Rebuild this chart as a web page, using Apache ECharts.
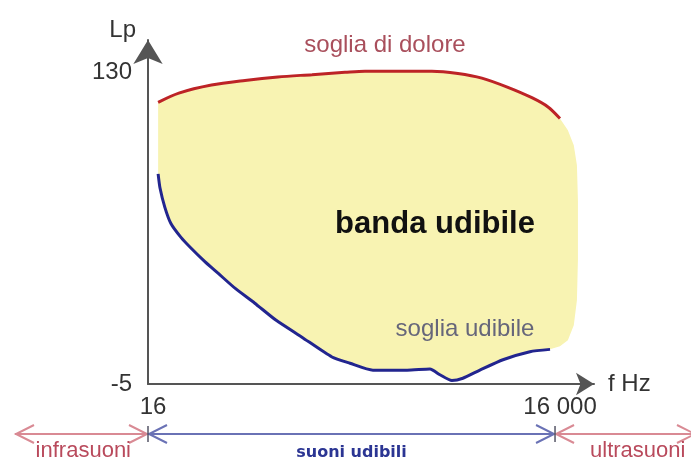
<!DOCTYPE html>
<html>
<head>
<meta charset="utf-8">
<script src="https://cdn.jsdelivr.net/npm/echarts@6/dist/echarts.min.js"></script>
<style>
  html, body { margin: 0; background: #fff; }
  #chart { width: 691px; height: 461px; }
</style>
</head>
<body>
<div id="chart"></div>
<script>
// soglia di dolore (Hz, dB)
const redHz = [19, 27, 47, 83, 145, 259, 453, 636, 848, 1980, 3080, 4620, 7190, 10800, 14200, 17400]
const redLp = [117, 121, 124.5, 126.5, 128, 129, 130, 130.5, 130.5, 130.5, 129.5, 127.5, 123.5, 119, 115, 110]

// soglia udibile (Hz, dB)
const blueHz = [19, 19.6, 21.3, 23.6, 28, 33, 42, 52.5, 70, 98, 140, 218, 363, 493, 728, 1300, 1915, 2270, 2780, 3350, 4470, 6610, 10450, 14700]
const blueLp = [86, 80, 71.5, 64.5, 58.5, 54, 48, 43, 36.5, 30, 22.7, 15.3, 6.7, 4, 1, 1, 1.5, -1, -3.5, -2.5, 1, 5.5, 9, 10]

// bordo destro della banda gialla
const edgeHz = [19900, 22000, 23200, 23600, 23600, 23200, 22000, 19900, 17400]
const edgeLp = [104.9, 98.4, 89.8, 74.6, 48.7, 31.3, 20.5, 14, 11.4]

// assi
const xTicks = [16, 16000]
const yTicks = [-5, 130]
const xRangeHz = [16, 31000]
const yRange = [-5, 144]

// bande sotto l'asse
const bandNames = ['infrasuoni', 'suoni udibili', 'ultrasuoni']
const bandFrom = [null, 16, 16000]
const bandTo = [16, 16000, null]

const lg = Math.log10
const toPts = (hz, lp) => hz.map((f, i) => [lg(f), lp[i]])

const redPts = toPts(redHz, redLp)
const bluePts = toPts(blueHz, blueLp)
const fillPts = [...redPts, ...toPts(edgeHz, edgeLp), ...bluePts.slice().reverse()]

const fmtHz = (v) => String(Math.round(Math.pow(10, v))).replace(/\B(?=(\d{3})+(?!\d))/g, ' ')

const FONT = '"Liberation Sans", Arial, sans-serif'

const chart = echarts.init(document.getElementById('chart'))

const option = {
  animation: false,
  grid: { left: 148, top: 40, width: 446, height: 344, outerBoundsMode: 'none' },
  xAxis: {
    type: 'value',
    min: lg(xRangeHz[0]),
    max: lg(xRangeHz[1]),
    name: 'f Hz',
    nameGap: 14,
    nameTextStyle: { fontSize: 24, color: '#333', fontFamily: FONT, align: 'left', verticalAlign: 'middle', padding: [4, 0, 0, 0] },
    axisLine: { onZero: false, lineStyle: { color: '#555', width: 2 }, symbol: ['none', 'arrow'], symbolSize: [17, 18] },
    axisTick: { show: false },
    splitLine: { show: false },
    axisLabel: {
      customValues: xTicks.map(lg),
      margin: 11,
      formatter: (v, i) => (i === 0 ? '{a|' : '{b|') + fmtHz(v) + '}',
      rich: {
        a: { fontSize: 24, color: '#333', fontFamily: FONT, padding: [0, 0, 0, 27] },
        b: { fontSize: 24, color: '#333', fontFamily: FONT, padding: [0, 0, 0, 10] },
      },
    },
  },
  yAxis: {
    type: 'value',
    min: yRange[0],
    max: yRange[1],
    name: 'Lp',
    nameGap: 10,
    nameTextStyle: { fontSize: 24, color: '#333', fontFamily: FONT, align: 'right', verticalAlign: 'middle', padding: [0, 12, 0, 0] },
    axisLine: { onZero: false, lineStyle: { color: '#555', width: 2 }, symbol: ['none', 'arrow'], symbolSize: [22, 24] },
    axisTick: { show: false },
    splitLine: { show: false },
    axisLabel: { customValues: yTicks, margin: 16, fontSize: 24, color: '#333', fontFamily: FONT },
  },
  graphic: [
    { type: 'text', x: 385, y: 45, z: 10, style: { text: 'soglia di dolore', fill: '#a94f5c', font: '24px ' + FONT, align: 'center', verticalAlign: 'middle', textAlign: 'center', textVerticalAlign: 'middle' } },
    { type: 'text', x: 435, y: 224, z: 10, style: { text: 'banda udibile', fill: '#111', font: 'bold 31px ' + FONT, align: 'center', verticalAlign: 'middle', textAlign: 'center', textVerticalAlign: 'middle' } },
    { type: 'text', x: 465, y: 329, z: 10, style: { text: 'soglia udibile', fill: '#66667a', font: '24px ' + FONT, align: 'center', verticalAlign: 'middle', textAlign: 'center', textVerticalAlign: 'middle' } },
  ],
  series: [
    {
      type: 'custom',
      name: 'banda udibile',
      z: 1,
      data: [[lg(16), -5]],
      renderItem: (params, api) => ({
        type: 'polygon',
        shape: { points: fillPts.map((p) => api.coord(p)) },
        style: { fill: '#f8f3b2', stroke: null },
      }),
    },
    {
      type: 'line',
      name: 'soglia di dolore',
      z: 3,
      data: redPts,
      smooth: 0.3,
      showSymbol: false,
      lineStyle: { color: '#bd2326', width: 3 },
    },
    {
      type: 'line',
      name: 'soglia udibile',
      z: 3,
      data: bluePts,
      smooth: 0.2,
      showSymbol: false,
      lineStyle: { color: '#22258f', width: 3 },
    },
    {
      type: 'custom',
      name: 'bande',
      z: 4,
      clip: false,
      data: bandNames.map((n) => ({ name: n, value: [lg(16), -5] })),
      renderItem: (params, api) => {
        const i = params.dataIndex
        const y = api.coord([lg(16), yRange[0]])[1] + 50
        const x1 = bandFrom[i] == null ? 15 : api.coord([lg(bandFrom[i]), yRange[0]])[0]
        const x2 = bandTo[i] == null ? api.getWidth() + 5 : api.coord([lg(bandTo[i]), yRange[0]])[0]
        const udibile = bandFrom[i] != null && bandTo[i] != null
        const lineColor = udibile ? '#6a72b5' : '#d98a94'
        const textColor = udibile ? '#2b3593' : '#b94a5c'
        const ls = { stroke: lineColor, lineWidth: 2, fill: null }
        const children = [
          { type: 'line', shape: { x1: x1, y1: y, x2: x2, y2: y }, style: ls },
          { type: 'polyline', shape: { points: [[x1 + 19, y - 9], [x1 + 1, y], [x1 + 19, y + 9]] }, style: ls },
          { type: 'polyline', shape: { points: [[x2 - 19, y - 9], [x2 - 1, y], [x2 - 19, y + 9]] }, style: ls },
        ]
        if (bandFrom[i] != null) {
          children.push({ type: 'line', shape: { x1: x1, y1: y - 8, x2: x1, y2: y + 8 }, style: { stroke: '#556', lineWidth: 1.5 } })
        }
        let tx = (x1 + x2) / 2
        let align = 'center'
        if (bandFrom[i] == null) { tx = x2 - 17; align = 'right' }
        if (bandTo[i] == null) { tx = x1 + 35; align = 'left' }
        children.push({
          type: 'text',
          style: {
            text: bandNames[i],
            x: tx,
            y: y + (udibile ? 19 : 17),
            fill: textColor,
            font: udibile ? 'bold 16px "DejaVu Sans", sans-serif' : '22px ' + FONT,
            align: align,
            verticalAlign: 'middle',
          },
        })
        return { type: 'group', children: children }
      },
    },
  ],
}

chart.setOption(option)
</script>
</body>
</html>
